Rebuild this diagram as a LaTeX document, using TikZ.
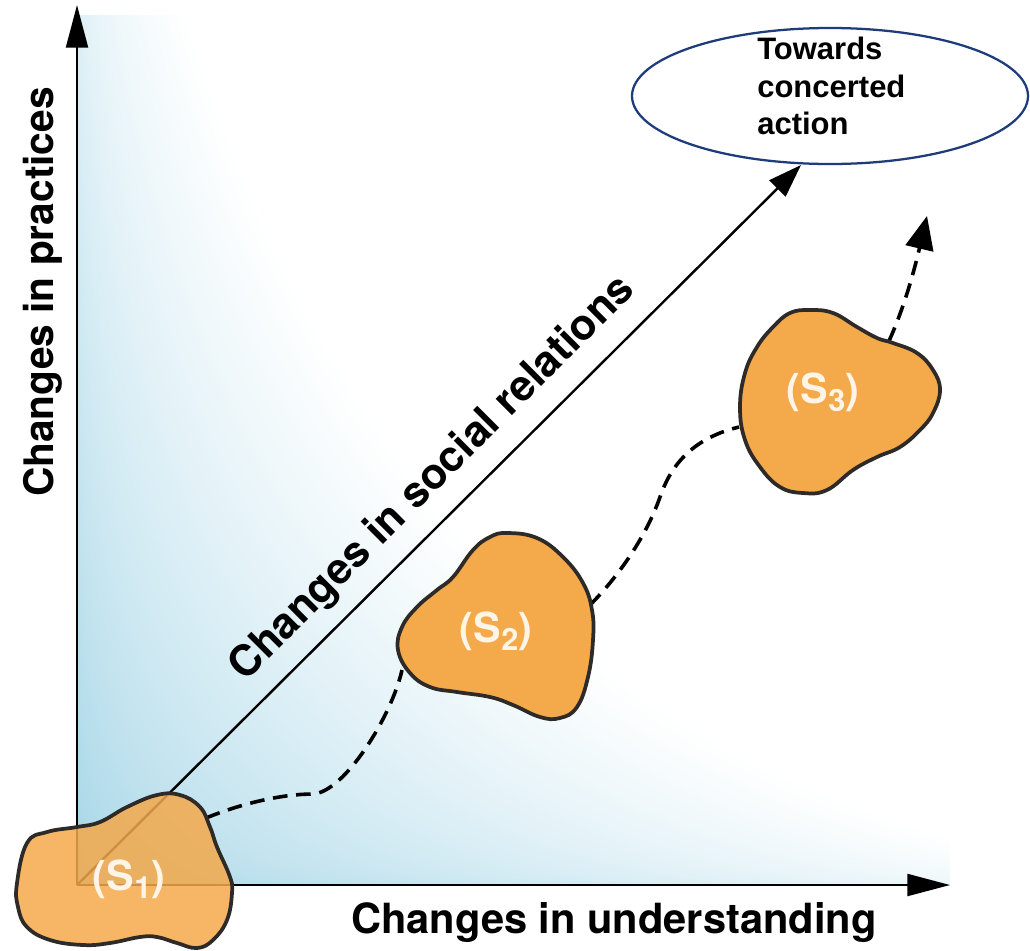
\documentclass[tikz,border=0pt]{standalone}
\usepackage{fontspec}
\setmainfont{Liberation Sans}
\newfontfamily\heros{TeX Gyre Heros}
\usetikzlibrary{arrows.meta,shapes.geometric}

\definecolor{blobfill}{HTML}{F4A94B}
\definecolor{blobline}{HTML}{2E2A27}
\definecolor{blobtext}{HTML}{FFF5E6}
\definecolor{goalline}{HTML}{1F3C7A}

% blue wash that is strongest at the origin and along both axes
\pgfdeclarefunctionalshading{axisfade}{\pgfpointorigin}{\pgfpoint{100bp}{100bp}}{}{
25 sub 17.4 mul abs sqrt exch 25 sub 24.4 mul abs sqrt add 42 div
dup 1 gt {pop 1} if 1.5 exp 1 exch sub
dup 0.37 mul 1 exch sub exch dup 0.17 mul 1 exch sub exch 0.1 mul 1 exch sub
}

\newcommand{\lowidx}[1]{\raisebox{-0.2em}{\fontsize{23pt}{23pt}\selectfont #1}}

\begin{document}
\begin{tikzpicture}[x=0.75pt,y=-0.75pt,
  axisline/.style={line width=1.6pt,-{Triangle[length=32pt,width=16.5pt]}},
  diagline/.style={line width=1.8pt,-{Triangle[length=25pt,width=17pt]}},
  pathlink/.style={line width=2.7pt,dash pattern=on 11pt off 6.5pt},
  blob/.style={fill=blobfill,draw=blobline,line width=2.8pt,line join=round},
  bloblabel/.style={text=blobtext,font=\heros\bfseries\fontsize{31pt}{36pt}\selectfont,inner sep=0pt,anchor=base},
  axislabel/.style={font=\heros\bfseries\fontsize{30.5pt}{36pt}\selectfont,inner sep=0pt,anchor=base},
  goaltext/.style={font=\bfseries\fontsize{23.25pt}{28.1pt}\selectfont,inner sep=0pt,align=left,anchor=north west}
]
\useasboundingbox (0,0) rectangle (1030,950);

% background wash inside the axes
\shade[shading=axisfade] (77,15) rectangle (950,885);

% anchor points
\coordinate (O) at (77,885);
\coordinate (ytop) at (77,5);
\coordinate (xend) at (950,885);
\coordinate (dend) at (801,165);
\coordinate (c1a) at (206,818);
\coordinate (c2a) at (402,670);
\coordinate (c2b) at (590,605);
\coordinate (c3a) at (739,427);
\coordinate (c3b) at (889,341);
\coordinate (c3tip) at (927,216);

% axes and the diagonal
\draw[axisline] (O) -- (ytop);
\draw[axisline] (O) -- (xend);
\draw[diagline] (O) -- (dend);

% dashed trajectory between the states
\draw[pathlink] (c1a) .. controls (245,802) and (285,794) .. (313,794)
  .. controls (345,792) and (392,715) .. (c2a);
\draw[pathlink] (c2b) .. controls (615,580) and (645,540) .. (660,497)
  .. controls (668,474) and (685,440) .. (c3a);
\draw[pathlink,-{Triangle[length=25pt,width=21pt]}] (c3b) .. controls (902,312) and (912,280) .. (c3tip);

% the three states
\draw[blob] plot[smooth cycle,tension=0.7] coordinates {
  (507,533) (537,538) (563,557) (583,583) (592,610) (593,640) (588,677)
  (577,707) (560,718) (540,717) (513,705) (490,697) (457,692) (430,687)
  (410,673) (398,650) (402,627) (417,607) (437,590) (453,577) (473,550) (490,537)};
\draw[blob] plot[smooth cycle,tension=0.7] coordinates {
  (810,310) (833,313) (857,327) (877,338) (893,343) (917,353) (933,370)
  (940,390) (933,413) (920,430) (900,447) (877,457) (853,470) (827,490)
  (803,493) (780,487) (760,467) (745,440) (740,407) (745,373) (757,347)
  (773,327) (790,313)};
\draw[blob,fill opacity=0.85] plot[smooth cycle,tension=0.7] coordinates {
  (17,883) (27,843) (47,832) (77,827) (100,822) (127,807) (157,795)
  (180,795) (200,807) (210,827) (217,847) (230,877) (232,893) (227,920)
  (213,940) (197,948) (177,943) (157,937) (140,937) (110,943) (83,945)
  (50,940) (27,927) (18,907)};

\node[bloblabel] (s1) at (129,890) {(S\lowidx{1})};
\node[bloblabel] (s2) at (496,642) {(S\lowidx{2})};
\node[bloblabel] (s3) at (823,403) {(S\lowidx{3})};

% axis titles
\node[axislabel,rotate=90] (ylab) at (53,292) {Changes in practices};
\node[axislabel,font=\heros\bfseries\fontsize{31.2pt}{36pt}\selectfont] (xlab) at (614,933) {Changes in understanding};
\node[axislabel,rotate=45,font=\heros\bfseries\fontsize{32pt}{38pt}\selectfont] (dlab) at (441,487) {Changes in social relations};

% goal
\node[draw=goalline,line width=1.7pt,ellipse,inner sep=0pt,
  minimum width=297pt,minimum height=102pt] (goal) at (830,96) {};
\node[goaltext] (goaltxt) at (757,37) {Towards\\concerted\\action};
\end{tikzpicture}
\end{document}
